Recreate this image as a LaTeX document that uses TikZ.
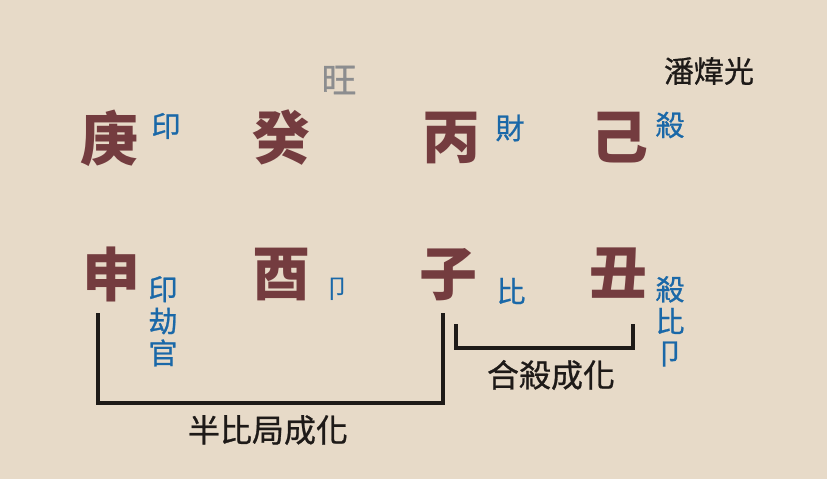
\documentclass[tikz,border=0pt]{standalone}
\usepackage{fontspec}
\newfontfamily\cjk{Noto Sans CJK TC}
\newfontfamily\cjkm{Noto Sans CJK TC}[FakeBold=0.8]
\definecolor{paper}{HTML}{E7DAC8}
\definecolor{stem}{HTML}{743C3F}
\definecolor{lblue}{HTML}{1A68A8}
\definecolor{lgray}{HTML}{8C8D8F}
\definecolor{ink}{HTML}{1E1A18}
\tikzset{
  pillar/.style={text=stem, font=\cjk\bfseries\fontsize{58}{58}\selectfont, inner sep=0pt},
  tag/.style={text=lblue, font=\cjkm\fontsize{29}{30}\selectfont, inner sep=0pt},
  vtag/.style={text=lblue, font=\cjkm\fontsize{29}{32}\selectfont, inner sep=0pt, align=center},
  note/.style={text=ink, font=\cjkm\fontsize{32}{32}\selectfont, inner sep=0pt},
  bracket/.style={draw=ink, line width=3.6pt}
}
\begin{document}
\begin{tikzpicture}[x=1pt,y=-1pt]
\fill[paper] (0,0) rectangle (827,479);
\useasboundingbox (0,0) rectangle (827,479);
% header
\node[text=lgray, font=\cjkm\fontsize{35}{35}\selectfont, inner sep=0pt] (wang) at (339,80) {旺};
\node[text=ink, font=\cjkm\fontsize{30}{30}\selectfont, inner sep=0pt] (name) at (709,71) {潘煒光};
% row 1
\node[pillar] (g1) at (109,138) {庚};
\node[pillar] (g2) at (281,138) {癸};
\node[pillar] (g3) at (451,138) {丙};
\node[pillar] (g4) at (619,138) {己};
\node[tag] (t1) at (166,126) {印};
\node[tag] (t3) at (510,128) {財};
\node[tag] (t4) at (670,125) {殺};
% row 2
\node[pillar] (b1) at (111,274) {申};
\node[pillar] (b2) at (281,274) {酉};
\node[pillar] (b3) at (448,275) {子};
\node[pillar] (b4) at (618,273) {丑};
\node[tag, font=\cjk\fontsize{26}{26}\selectfont] (m2) at (337,289) {卩};
\node[tag] (m3) at (511,291) {比};
\node[vtag, anchor=north] (m1) at (163,276) {印\\劫\\官};
\node[vtag, anchor=north] (m4) at (670,276) {殺\\比\\卩};
% brackets
\coordinate (a1) at (98,313);
\coordinate (a2) at (443,313);
\draw[bracket] (a1) -- (98,403) -- (443,403) -- (a2);
\coordinate (c1) at (456,324);
\coordinate (c2) at (633,324);
\draw[bracket] (c1) -- (456,348) -- (633,348) -- (c2);
\node[note] (n1) at (268,430) {半比局成化};
\node[note] (n2) at (551,375) {合殺成化};
\end{tikzpicture}
\end{document}
